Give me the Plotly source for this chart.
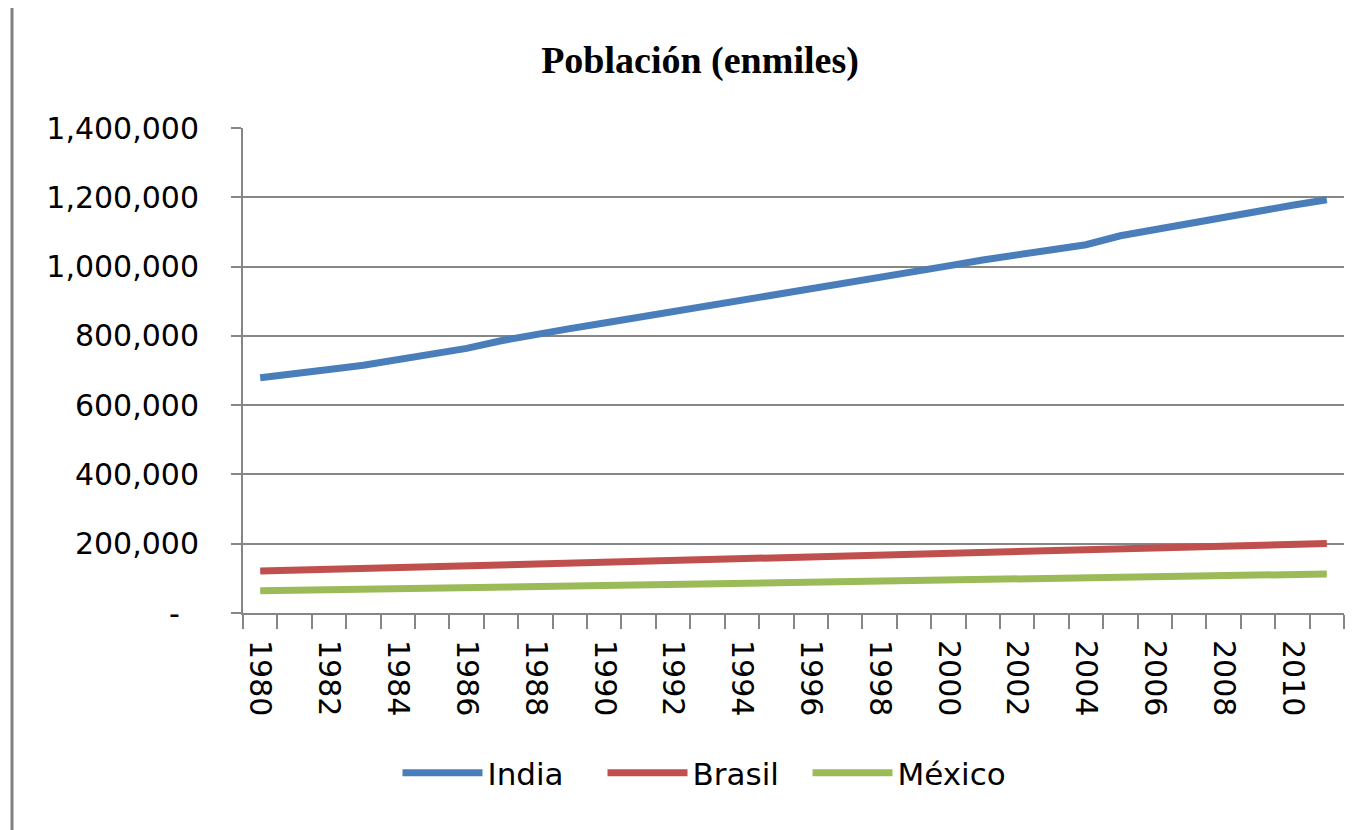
import plotly.graph_objects as go

years = list(range(1980, 2012))
india = [679000, 689000, 703000, 715000, 730000, 746000, 764000, 786000, 806000, 821000,
         837000, 853000, 871000, 888000, 904000, 918000, 933000, 951000, 967000, 983000,
         1002000, 1019000, 1035000, 1051000, 1063000, 1089000, 1107000, 1125000, 1146000, 1162000,
         1177000, 1193000]
brasil = [121000, 123700, 126400, 129000, 131700, 134400, 137000, 139700, 142300, 145000,
          147600, 150200, 152800, 155400, 158000, 160600, 163100, 165700, 168200, 170800,
          173300, 175800, 178300, 180800, 183200, 185600, 188000, 190400, 192800, 195200,
          197600, 200300]
mexico = [64000, 65700, 67500, 69200, 70900, 72700, 74400, 76100, 77800, 79600,
          81300, 83000, 84800, 86500, 88200, 90000, 91400, 92800, 94200, 95600,
          97000, 98500, 99900, 101300, 102700, 104100, 105500, 106900, 108300, 109800,
          111200, 112600]
series = [("India", india, "#4A7EBB"), ("Brasil", brasil, "#C0504D"), ("México", mexico, "#9BBB59")]

y_ticks = [0, 200000, 400000, 600000, 800000, 1000000, 1200000, 1400000]
y_labels = ["-\u00a0\u00a0", "200,000", "400,000", "600,000", "800,000", "1,000,000", "1,200,000", "1,400,000"]
x_ticks = list(range(1980, 2011, 2))

W, H = 1364, 822
L, T, PW, PH = 235, 120, 1101, 485
grid = "#868686"
fig = go.Figure()
for name, vals, col in series:
    fig.add_trace(go.Scatter(x=years, y=vals, name=name, mode="lines",
                             line=dict(color=col, width=7)))

fig.update_layout(
    width=W, height=H,
    margin=dict(l=L, r=W - L - PW, t=T, b=H - T - PH),
    paper_bgcolor="white", plot_bgcolor="white",
    font=dict(family="DejaVu Sans", color="black", size=30),
    title=dict(text="<b>Población (enmiles)</b>", x=692 / W, xref="container", xanchor="center",
               y=1 - 52 / H, yref="container", yanchor="middle",
               font=dict(family="Liberation Serif", size=38, color="black")),
    showlegend=True,
    legend=dict(orientation="h", xref="container", x=697 / W, xanchor="center",
                yref="container", y=1 - 765 / H, yanchor="middle",
                font=dict(family="DejaVu Sans", size=31, color="black"),
                itemwidth=80, entrywidth=110, bgcolor="rgba(0,0,0,0)"),
    shapes=[dict(type="line", xref="paper", yref="paper",
                 x0=(12 - 243) / PW, x1=(12 - 243) / PW, y0=-0.5, y1=1.3,
                 line=dict(color="#808080", width=3))],
)
fig.update_xaxes(range=[1979.5, 2011.5], tickvals=x_ticks, ticktext=[str(v) for v in x_ticks],
                 tickangle=90, ticks="outside", ticklen=19, tickcolor="rgba(0,0,0,0)",
                 showgrid=False, zeroline=False, showline=True, linecolor=grid, linewidth=2,
                 minor=dict(ticks="outside", ticklen=14, tickcolor=grid, tickwidth=2,
                            dtick=1, tick0=1979.5, showgrid=False),
                 tickfont=dict(family="DejaVu Sans", size=30))
fig.update_yaxes(range=[0, 1400000], tickvals=y_ticks, ticktext=y_labels,
                 ticks="outside", ticklen=10, tickcolor=grid, tickwidth=2,
                 showgrid=True, gridcolor=grid, gridwidth=2, zeroline=False,
                 showline=True, linecolor=grid, linewidth=2,
                 ticklabelstandoff=26,
                 tickfont=dict(family="DejaVu Sans", size=30))

fig.write_html("out.html")
